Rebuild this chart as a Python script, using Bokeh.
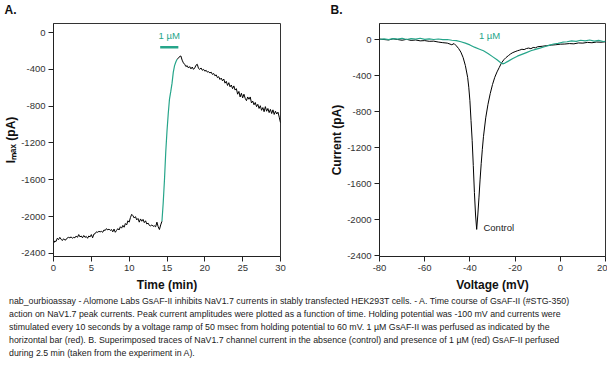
from bokeh.plotting import figure
from bokeh.models import FixedTicker, Label, Div, Range1d
from bokeh.layouts import column, row
from bokeh.core.properties import value
from bokeh.embed import file_html
from bokeh.resources import INLINE

# ---------------- data: panel A (time course, one sweep every 10 s) ----------------
sample_interval_min = 10 / 60
a_pre_start = 0.0
a_pre_current = [
    -2290, -2265, -2270, -2235, -2250, -2225, -2245, -2260, -2240, -2255,
    -2250, -2230, -2225, -2230, -2220, -2235, -2225, -2230, -2210, -2225,
    -2195, -2220, -2210, -2230, -2205, -2225, -2215, -2235, -2210, -2220,
    -2195, -2230, -2190, -2185, -2165, -2170, -2160, -2165, -2160, -2170,
    -2145, -2150, -2130, -2145, -2135, -2150, -2140, -2165, -2135, -2170,
    -2150, -2130, -2145, -2110, -2125, -2095, -2115, -2075, -2090, -2045,
    -2060, -2010, -1975, -1990, -2015, -2000, -2035, -2020, -2060, -2025,
    -2050, -2030, -2065, -2045, -2080, -2070, -2095, -2100, -2090, -2105,
    -2100, -2110, -2060, -2110, -2140, -2090, -2050,
]
a_drug_start = 14 + 2 / 6
a_drug_current = [
    -2050, -1850, -1600, -1300, -1070, -880, -720, -640, -550, -430,
    -360, -320, -290,
]
a_post_start = 16 + 2 / 6
a_post_current = [
    -290, -280, -260, -255,
    -300, -330, -345, -370, -360, -385,
    -370, -395, -375, -400, -385, -355,
    -345, -390, -400, -385, -410, -400,
    -420, -410, -430, -425, -440, -430,
    -455, -445, -470, -460, -490, -480,
    -510, -495, -525, -505, -550, -530,
    -575, -545, -590, -570, -610, -580,
    -625, -610, -670, -640, -700, -660,
    -710, -670, -715, -740, -700, -725,
    -700, -765, -745, -785, -760, -805,
    -780, -825, -795, -845, -815, -860,
    -805, -855, -825, -870, -835, -880,
    -840, -890, -855, -885, -865, -920,
    -980,
]
a_bar_time = [14.1, 16.5]
a_bar_level = -160
a_conc_label = "1 µM"

a_xticks = [0, 5, 10, 15, 20, 25, 30]
a_yticks = [0, -400, -800, -1200, -1600, -2000, -2400]

# ---------------- data: panel B (voltage ramp traces) ----------------
b_ctrl_voltage = [
    -80, -78, -76, -74, -72, -70, -68, -66, -64, -62, -60, -58, -56, -54, -52,
    -50, -48, -47, -46, -45, -44, -43, -42, -41, -40.5, -40, -39.5, -39, -38.5,
    -38, -37.5, -37, -36.5, -36, -35.5, -35, -34.5, -34, -33, -32, -31, -30,
    -29, -28, -27, -26, -25, -24, -23, -22, -21, -20, -19, -18, -17, -16, -15,
    -14, -13, -12, -11, -10, -8, -6, -4, -2, 0, 2, 4, 6, 8, 10, 12, 14, 16, 18, 20,
]
b_ctrl_current = [
    5, 0, -5, 8, 0, -8, 2, -10, -5, -15, -12, -20, -18, -28, -35,
    -40, -58, -45, -70, -100, -140, -200, -290, -420, -530, -680, -900, -1120, -1400,
    -1700, -1950, -2110, -1950, -1760, -1560, -1380, -1220, -1080, -870, -720, -600, -500,
    -420, -360, -310, -260, -225, -200, -180, -160, -145, -135, -125, -118, -108, -112, -100,
    -95, -102, -88, -92, -80, -75, -68, -62, -58, -52, -50, -45, -48, -38, -40, -32, -36, -28, -30, -25,
]
b_drug_voltage = [
    -80, -78, -76, -74, -72, -70, -68, -66, -64, -62, -60, -58, -56, -54, -52,
    -50, -48, -46, -44, -42, -40, -38, -36, -34, -32, -30, -28, -26.5, -25.5,
    -24.5, -23, -21, -19, -17, -15, -13, -11, -9, -7, -5, -3, -1, 1, 3, 5, 7,
    9, 11, 13, 15, 17, 19, 20,
]
b_drug_current = [
    0, 8, -2, 10, 4, 12, 0, 10, 5, 14, 2, 8, 0, 6, -2,
    0, -8, -12, -25, -40, -60, -85, -105, -125, -155, -190, -225, -255, -270,
    -262, -240, -210, -185, -165, -145, -125, -110, -95, -80, -65, -50, -42, -30, -25, -15, -20,
    -8, -15, -5, -18, -10, -22, -20,
]
b_conc_label = "1 µM"
b_ctrl_label = "Control"

b_xticks = [-80, -60, -40, -20, 0, 20]
b_yticks = [0, -400, -800, -1200, -1600, -2000, -2400]

panel_letters = ["A.", "B."]

caption_lines = [
    "nab_ourbioassay - Alomone Labs GsAF-II inhibits NaV1.7 currents in stably transfected HEK293T cells. - A. Time course of GsAF-II (#STG-350)",
    "action on NaV1.7 peak currents. Peak current amplitudes were plotted as a function of time. Holding potential was -100 mV and currents were",
    "stimulated every 10 seconds by a voltage ramp of 50 msec from holding potential to 60 mV. 1 µM GsAF-II was perfused as indicated by the",
    "horizontal bar (red). B. Superimposed traces of NaV1.7 channel current in the absence (control) and presence of 1 µM (red) GsAF-II perfused",
    "during 2.5 min (taken from the experiment in A).",
]

# ---------------- styling ----------------
TEAL = "#26a58a"
FONT = "Liberation Sans"


def style(p, xticks, yticks):
    p.grid.visible = False
    p.outline_line_color = "#333333"
    p.outline_line_width = 1
    p.background_fill_color = "white"
    p.border_fill_color = "white"
    for ax, ticks in ((p.xaxis[0], xticks), (p.yaxis[0], yticks)):
        ax.ticker = FixedTicker(ticks=ticks)
        ax.major_label_overrides = {t: str(t) for t in ticks}
        ax.axis_line_color = "#222222"
        ax.major_tick_line_color = "#222222"
        ax.major_tick_in = 0
        ax.major_tick_out = 5
        ax.minor_tick_line_color = None
        ax.major_label_text_font = FONT
        ax.major_label_text_font_size = "9.5px"
        ax.major_label_text_color = "#333333"
        ax.major_label_standoff = 3
        ax.axis_label_text_font = FONT
        ax.axis_label_text_font_style = "bold"
        ax.axis_label_text_font_size = "12px"
        ax.axis_label_text_color = "#111111"
    p.xaxis[0].axis_label_standoff = 4
    p.yaxis[0].axis_label_standoff = 0


# ---------------- header with panel letters ----------------
header = figure(width=607, height=18, output_backend="svg", toolbar_location=None,
                x_range=Range1d(0, 607), y_range=Range1d(18, 0),
                min_border=0, x_axis_type=None, y_axis_type=None)
header.outline_line_color = None
header.grid.visible = False
header.text(x=[4, 330], y=[9, 9], text=panel_letters, text_font=value(FONT),
            text_font_style="bold", text_font_size="12px", text_baseline="middle",
            text_align="left", text_color="#111111")

# ---------------- panel A ----------------
pA = figure(width=327, height=276, output_backend="svg", toolbar_location=None,
            x_range=Range1d(0, 30), y_range=Range1d(-2433, 98),
            min_border_left=53, min_border_right=47, min_border_top=5, min_border_bottom=38)
style(pA, a_xticks, a_yticks)
pA.xaxis.axis_label = "Time (min)"
pA.yaxis.axis_label = "Iₘₐₓ (pA)"

t_pre = [a_pre_start + k * sample_interval_min for k in range(len(a_pre_current))]
t_drug = [a_drug_start + k * sample_interval_min for k in range(len(a_drug_current))]
t_post = [a_post_start + k * sample_interval_min for k in range(len(a_post_current))]
pA.line(t_pre, a_pre_current, line_color="black", line_width=1)
pA.line(t_post, a_post_current, line_color="black", line_width=1)
pA.line(t_drug, a_drug_current, line_color=TEAL, line_width=1.2)
pA.line(a_bar_time, [a_bar_level, a_bar_level], line_color=TEAL, line_width=2.5)
pA.add_layout(Label(x=sum(a_bar_time) / 2, y=-27, text=a_conc_label, text_align="center",
                    text_baseline="middle", text_color=TEAL, text_font=FONT,
                    text_font_size="9.5px"))

# ---------------- panel B ----------------
pB = figure(width=280, height=276, output_backend="svg", toolbar_location=None,
            x_range=Range1d(-80, 20), y_range=Range1d(-2411, 178),
            min_border_left=50, min_border_right=2, min_border_top=5, min_border_bottom=38)
style(pB, b_xticks, b_yticks)
pB.xaxis.axis_label = "Voltage (mV)"
pB.yaxis.axis_label = "Current (pA)"
pB.line(b_ctrl_voltage, b_ctrl_current, line_color="black", line_width=1)
pB.line(b_drug_voltage, b_drug_current, line_color=TEAL, line_width=1.2)
pB.add_layout(Label(x=-31.3, y=50, text=b_conc_label, text_align="center",
                    text_baseline="middle", text_color=TEAL, text_font=FONT,
                    text_font_size="9.5px"))
pB.add_layout(Label(x=-34.0, y=-2090, text=b_ctrl_label, text_align="left",
                    text_baseline="middle", text_color="#222222", text_font=FONT,
                    text_font_size="9.5px"))

# ---------------- caption ----------------
caption = Div(text="<br>".join(caption_lines), width=598, height=66, margin=(1, 0, 0, 9),
              styles={"font-family": "'Liberation Sans', sans-serif",
                      "font-size": "8.8px", "line-height": "13px", "color": "#1a1a1a",
                      "white-space": "nowrap"})

layout = column(header, row(pA, pB, spacing=0), caption, spacing=0)
open("out.html", "w").write(file_html(layout, INLINE))
